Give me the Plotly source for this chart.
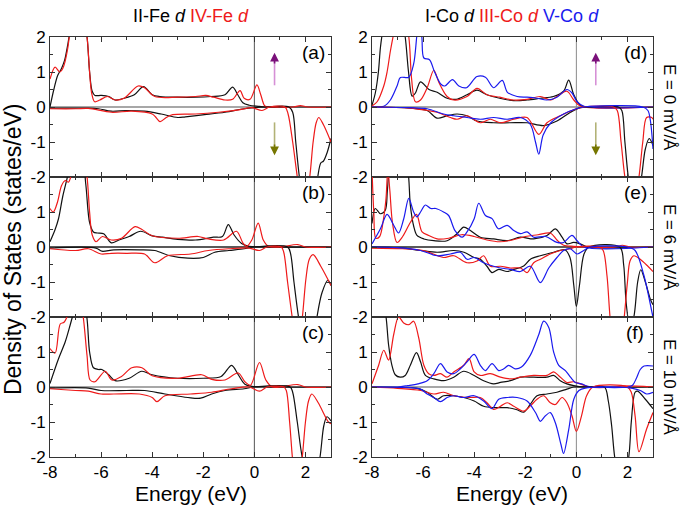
import plotly.graph_objects as go

# ---------------- data ----------------
# Panel (a)  E = 0 mV/Å, Fe
A_II_UP_E = [-8.0, -7.85, -7.7, -7.55, -7.43, -7.3, -7.2, -7.0, -6.7, -6.55, -6.45, -6.35, -6.24, -6.0, -5.7, -5.45, -5.1, -4.7, -4.34, -4.0, -3.7, -3.0, -2.3, -1.7, -1.15, -0.85, -0.65, -0.45, -0.2, 0.15, 0.5, 1.5, 3.0]
A_II_UP = [0.0, 0.5, 0.9, 1.1, 1.33, 1.8, 2.2, 2.6, 2.6, 2.0, 1.0, 0.45, 0.33, 0.33, 0.3, 0.2, 0.25, 0.35, 0.58, 0.35, 0.3, 0.28, 0.28, 0.3, 0.35, 0.57, 0.35, 0.12, 0.05, 0.02, 0.0, 0.0, 0.0]
A_IV_UP_E = [-8.0, -7.8, -7.62, -7.5, -7.41, -7.3, -7.2, -7.0, -6.7, -6.55, -6.45, -6.37, -6.25, -6.05, -5.75, -5.45, -5.1, -4.55, -4.3, -3.9, -3.0, -2.3, -1.9, -1.6, -1.15, -0.85, -0.56, -0.4, -0.17, 0.1, 0.25, 0.41, 0.6, 1.0, 1.5, 1.8, 2.1, 3.0]
A_IV_UP = [0.8, 1.14, 1.0, 1.1, 1.3, 1.7, 2.2, 2.6, 2.6, 2.0, 1.0, 0.4, 0.15, 0.2, 0.3, 0.2, 0.25, 0.6, 0.55, 0.3, 0.28, 0.3, 0.33, 0.28, 0.2, 0.22, 0.47, 0.25, 0.22, 0.63, 0.35, 0.03, 0.0, 0.0, 0.0, 0.04, 0.0, 0.0]
A_II_DN_E = [-8.0, -7.0, -6.5, -6.1, -5.6, -5.0, -4.3, -3.65, -3.0, -2.7, -1.95, -1.15, -0.4, 0.0, 0.5, 1.35, 1.5, 1.62, 1.78, 2.0, 2.3, 2.48, 2.6, 2.7, 2.85, 3.0]
A_II_DN = [-0.03, -0.03, -0.03, -0.05, -0.12, -0.1, -0.12, -0.2, -0.3, -0.28, -0.22, -0.15, -0.05, -0.02, 0.0, 0.0, -0.15, -1.0, -2.1, -3.0, -3.0, -2.0, -1.6, -1.55, -1.3, -0.9]
A_IV_DN_E = [-8.0, -7.0, -6.5, -5.6, -4.8, -4.0, -3.85, -3.69, -3.45, -3.2, -2.3, -1.4, -0.6, -0.1, 0.3, 0.6, 1.2, 1.32, 1.5, 1.7, 1.9, 2.15, 2.3, 2.42, 2.52, 2.7, 3.0]
A_IV_DN = [-0.05, -0.05, -0.04, -0.15, -0.12, -0.2, -0.3, -0.42, -0.3, -0.22, -0.2, -0.15, -0.08, -0.02, -0.1, 0.0, 0.0, -0.2, -1.0, -2.1, -3.0, -2.1, -1.0, -0.45, -0.3, -0.5, -1.0]

# Panel (b)  E = 6 mV/Å, Fe
B_II_UP_E = [-8.0, -7.8, -7.67, -7.5, -7.35, -7.25, -7.0, -6.76, -6.6, -6.45, -6.3, -6.15, -5.9, -5.6, -5.3, -4.9, -4.45, -4.0, -3.6, -3.0, -2.3, -1.6, -1.25, -1.02, -0.8, -0.5, -0.2, 0.3, 3.0]
B_II_UP = [0.15, 0.5, 0.8, 1.45, 1.9, 2.2, 2.6, 2.6, 1.8, 0.7, 0.43, 0.4, 0.38, 0.12, 0.2, 0.3, 0.45, 0.32, 0.28, 0.22, 0.2, 0.28, 0.3, 0.64, 0.35, 0.1, 0.02, 0.0, 0.0]
B_IV_UP_E = [-8.0, -7.87, -7.7, -7.55, -7.4, -7.28, -7.15, -6.95, -6.7, -6.55, -6.45, -6.35, -6.2, -5.95, -5.6, -5.2, -4.67, -4.4, -4.0, -3.0, -2.2, -1.8, -1.2, -0.7, -0.45, -0.3, -0.1, 0.15, 0.35, 0.55, 1.0, 1.7, 2.0, 3.0]
B_IV_UP = [1.1, 1.0, 1.3, 1.75, 1.9, 1.85, 2.1, 2.6, 2.6, 2.0, 1.0, 0.35, 0.15, 0.3, 0.2, 0.25, 0.58, 0.5, 0.32, 0.25, 0.3, 0.23, 0.2, 0.45, 0.12, 0.02, 0.2, 0.68, 0.2, 0.02, 0.0, 0.07, 0.0, 0.0]
B_II_DN_E = [-8.0, -6.2, -5.97, -5.5, -4.5, -3.9, -3.3, -2.6, -2.0, -1.55, -1.0, -0.4, 0.0, 1.3, 1.42, 1.55, 1.75, 2.0, 2.25, 2.45, 2.65, 2.88, 3.0]
B_II_DN = [-0.03, -0.03, -0.12, -0.08, -0.08, -0.1, -0.25, -0.32, -0.3, -0.15, -0.1, -0.05, 0.0, 0.0, -0.2, -1.0, -2.1, -3.0, -3.0, -2.0, -1.3, -0.95, -1.1]
B_IV_DN_E = [-8.0, -7.0, -6.5, -6.0, -5.6, -5.0, -4.3, -3.9, -3.4, -2.5, -1.8, -1.0, -0.2, 0.2, 0.5, 1.05, 1.15, 1.3, 1.5, 1.7, 1.88, 2.02, 2.15, 2.3, 2.6, 3.0]
B_IV_DN = [-0.05, -0.1, -0.05, -0.2, -0.18, -0.18, -0.2, -0.45, -0.25, -0.2, -0.1, -0.05, -0.03, -0.1, 0.0, 0.0, -0.15, -1.0, -2.1, -3.0, -2.0, -0.9, -0.35, -0.22, -0.55, -1.1]

# Panel (c)  E = 10 mV/Å, Fe
C_II_UP_E = [-8.0, -7.67, -7.4, -7.2, -7.05, -6.9, -6.75, -6.56, -6.45, -6.3, -6.1, -5.97, -5.7, -5.45, -4.9, -4.41, -4.0, -3.0, -2.0, -1.3, -0.89, -0.63, -0.37, -0.1, 0.3, 3.0]
C_II_UP = [0.1, 0.8, 1.3, 1.8, 2.2, 2.6, 2.6, 2.0, 1.0, 0.55, 0.5, 0.5, 0.35, 0.18, 0.25, 0.45, 0.35, 0.25, 0.25, 0.3, 0.62, 0.35, 0.08, 0.02, 0.0, 0.0]
C_IV_UP_E = [-8.0, -7.8, -7.6, -7.45, -7.28, -7.1, -6.85, -6.7, -6.55, -6.43, -6.24, -5.84, -5.58, -5.2, -4.8, -4.4, -4.0, -3.0, -2.06, -1.67, -1.15, -0.63, -0.37, -0.15, 0.2, 0.45, 0.7, 1.7, 2.0, 3.0]
C_IV_UP = [1.1, 0.97, 1.8, 1.85, 2.1, 2.6, 2.6, 2.0, 0.9, 0.2, 0.15, 0.45, 0.2, 0.3, 0.55, 0.55, 0.32, 0.25, 0.35, 0.22, 0.2, 0.4, 0.15, 0.05, 0.7, 0.2, 0.0, 0.07, 0.0, 0.0]
C_II_DN_E = [-8.0, -6.5, -6.0, -5.0, -4.3, -3.5, -2.6, -2.1, -1.67, -1.15, -0.4, 0.0, 1.4, 1.5, 1.68, 1.9, 2.3, 2.57, 2.72, 2.84, 3.0]
C_II_DN = [-0.03, -0.03, -0.1, -0.1, -0.1, -0.2, -0.3, -0.32, -0.2, -0.1, -0.05, 0.0, 0.0, -0.15, -1.0, -2.1, -3.0, -2.0, -1.1, -0.85, -0.97]
C_IV_DN_E = [-8.0, -7.0, -6.5, -6.0, -5.5, -4.5, -4.0, -3.82, -3.5, -2.5, -1.67, -0.9, -0.2, 0.2, 0.5, 1.15, 1.25, 1.38, 1.5, 1.65, 1.86, 2.0, 2.12, 2.25, 2.5, 2.9, 3.0]
C_IV_DN = [-0.05, -0.1, -0.12, -0.2, -0.2, -0.2, -0.3, -0.42, -0.25, -0.2, -0.15, -0.05, 0.0, -0.12, 0.0, 0.0, -0.1, -1.0, -2.1, -3.0, -2.1, -1.0, -0.4, -0.2, -0.45, -1.0, -1.05]

# Panel (d)  E = 0 mV/Å, Co
D_I_UP_E = [-8.0, -7.87, -7.75, -7.67, -7.57, -7.4, -6.85, -6.7, -6.57, -6.43, -6.3, -6.1, -5.77, -5.45, -5.06, -4.7, -4.28, -3.89, -3.5, -3.0, -2.45, -1.93, -1.41, -0.9, -0.5, -0.3, -0.1, 0.15, 0.4, 3.0]
D_I_UP = [0.05, 0.4, 1.0, 1.7, 2.2, 2.6, 2.6, 2.0, 1.0, 0.31, 0.4, 0.72, 0.5, 0.42, 0.25, 0.22, 0.35, 0.48, 0.35, 0.25, 0.18, 0.2, 0.25, 0.3, 0.45, 0.77, 0.35, 0.05, 0.0, 0.0]
D_III_UP_E = [-8.0, -7.8, -7.54, -7.41, -7.28, -7.15, -7.0, -6.75, -6.56, -6.45, -6.3, -6.1, -5.84, -5.58, -5.38, -5.06, -4.8, -4.28, -3.89, -3.5, -3.0, -2.45, -1.93, -1.41, -1.0, -0.76, -0.37, -0.1, 0.15, 3.0]
D_III_UP = [0.03, 0.15, 0.6, 1.0, 1.6, 2.1, 2.6, 2.6, 2.0, 0.8, 0.15, 0.2, 0.55, 1.05, 0.7, 0.3, 0.2, 0.3, 0.53, 0.35, 0.28, 0.2, 0.22, 0.3, 0.2, 0.3, 0.45, 0.2, 0.03, 0.0]
D_V_UP_E = [-8.0, -7.54, -7.28, -7.02, -6.89, -6.56, -6.37, -6.25, -6.17, -6.05, -5.97, -5.75, -5.55, -5.3, -5.15, -4.85, -4.6, -4.3, -3.89, -3.56, -3.24, -2.9, -2.7, -2.32, -1.93, -1.54, -1.15, -0.76, -0.37, -0.17, 0.03, 0.3, 3.0]
D_V_UP = [0.0, 0.02, 0.2, 0.6, 0.84, 0.85, 1.23, 2.0, 2.5, 2.0, 1.4, 1.35, 1.0, 0.65, 0.6, 0.78, 0.6, 0.55, 0.87, 0.85, 0.55, 0.76, 0.42, 0.3, 0.28, 0.25, 0.2, 0.28, 0.5, 0.4, 0.15, 0.02, 0.0]
D_I_DN_E = [-8.0, -6.5, -5.84, -5.45, -5.06, -4.67, -4.28, -3.89, -3.24, -2.6, -1.93, -1.28, -0.76, -0.23, 0.15, 0.5, 1.65, 1.78, 1.9, 2.05, 2.3, 2.55, 2.7, 2.85, 3.0]
D_I_DN = [0.0, -0.03, -0.1, -0.32, -0.25, -0.2, -0.25, -0.4, -0.45, -0.45, -0.45, -0.53, -0.4, -0.15, -0.02, 0.0, 0.0, -0.1, -1.0, -2.1, -3.0, -2.0, -1.2, -0.9, -1.1]
D_III_DN_E = [-8.0, -6.5, -5.84, -5.45, -4.93, -4.67, -4.28, -3.76, -3.37, -2.97, -2.45, -1.93, -1.47, -1.15, -0.63, -0.1, 0.3, 1.45, 1.6, 1.75, 1.92, 2.2, 2.45, 2.6, 2.75, 2.95, 3.0]
D_III_DN = [0.0, -0.03, -0.1, -0.15, -0.3, -0.35, -0.25, -0.45, -0.35, -0.45, -0.35, -0.3, -0.78, -0.45, -0.25, -0.08, 0.0, 0.0, -0.1, -1.0, -2.1, -3.0, -2.0, -1.0, -0.3, -0.3, -0.35]
D_V_DN_E = [-8.0, -6.5, -5.84, -5.2, -4.8, -4.28, -3.76, -3.24, -2.71, -2.19, -1.8, -1.6, -1.47, -1.3, -1.0, -0.5, 0.0, 0.3, 2.6, 2.8, 2.9, 3.0]
D_V_DN = [0.0, -0.02, -0.05, -0.2, -0.25, -0.3, -0.35, -0.3, -0.35, -0.3, -0.5, -1.0, -1.35, -0.8, -0.45, -0.2, -0.05, 0.0, 0.0, -0.1, -0.4, -1.2]

# Panel (e)  E = 6 mV/Å, Co
E_I_UP_E = [-8.0, -7.87, -7.67, -7.48, -7.4, -7.33, -7.2, -6.8, -6.6, -6.5, -6.37, -6.24, -5.97, -5.58, -5.06, -4.67, -4.41, -4.15, -3.76, -3.24, -2.71, -2.19, -1.67, -1.15, -0.82, -0.56, -0.37, -0.11, 0.15, 0.45, 3.0]
E_I_UP = [0.67, 1.1, 0.95, 1.05, 1.6, 2.2, 2.6, 2.6, 2.2, 1.2, 0.6, 0.33, 0.23, 0.18, 0.18, 0.38, 0.57, 0.47, 0.28, 0.23, 0.18, 0.28, 0.23, 0.33, 0.52, 0.28, 0.09, 0.13, 0.09, 0.0, 0.0]
E_III_UP_E = [-8.0, -7.93, -7.85, -7.7, -7.55, -7.45, -7.38, -7.3, -7.2, -7.02, -6.8, -6.5, -6.26, -6.04, -5.78, -5.45, -5.0, -4.5, -4.0, -3.5, -3.0, -2.5, -2.0, -1.5, -1.02, -0.76, -0.5, -0.1, 0.5, 1.5, 1.8, 2.1, 3.0]
E_III_UP = [2.2, 1.0, 0.25, 0.3, 0.8, 1.4, 2.2, 1.6, 0.7, 0.13, 0.3, 0.7, 0.93, 0.43, 0.33, 0.23, 0.25, 0.35, 0.3, 0.2, 0.15, 0.2, 0.3, 0.35, 0.4, 0.2, 0.05, 0.02, 0.0, 0.0, 0.05, 0.0, 0.0]
E_V_UP_E = [-8.0, -7.67, -7.41, -7.15, -6.96, -6.76, -6.56, -6.37, -6.24, -6.1, -5.91, -5.7, -5.5, -5.2, -5.0, -4.75, -4.47, -4.28, -4.0, -3.82, -3.56, -3.3, -3.05, -2.71, -2.45, -2.19, -1.93, -1.67, -1.2, -0.76, -0.5, -0.17, 0.03, 0.3, 3.0]
E_V_UP = [0.09, 0.52, 0.93, 0.62, 0.4, 0.8, 1.39, 1.0, 0.86, 1.0, 1.2, 1.1, 1.1, 1.0, 0.9, 0.47, 0.28, 0.43, 0.81, 1.25, 0.9, 0.81, 0.52, 0.62, 0.47, 0.38, 0.43, 0.28, 0.3, 0.13, 0.13, 0.33, 0.18, 0.0, 0.0]
E_I_DN_E = [-8.0, -7.0, -6.1, -5.45, -4.8, -4.4, -4.0, -3.76, -3.5, -3.3, -3.04, -2.71, -2.45, -2.06, -1.8, -1.41, -0.89, -0.45, -0.25, -0.1, 0.0, 0.12, 0.3, 0.5, 1.7, 1.85, 1.95, 2.1, 2.25, 2.4, 2.52, 2.7, 2.9, 3.0]
E_I_DN = [0.0, -0.02, -0.1, -0.15, -0.1, -0.15, -0.3, -0.35, -0.55, -0.73, -0.64, -0.7, -0.64, -0.54, -0.35, -0.25, -0.15, -0.08, -0.3, -1.1, -1.7, -1.1, -0.2, 0.0, 0.0, -0.5, -1.6, -2.3, -2.0, -1.0, -0.65, -1.0, -1.5, -1.65]
E_III_DN_E = [-8.0, -6.8, -6.0, -5.6, -5.2, -4.8, -4.28, -3.89, -3.63, -3.37, -2.97, -2.58, -2.19, -1.93, -1.67, -1.41, -1.02, -0.63, -0.24, 0.0, 0.9, 1.05, 1.2, 1.33, 1.5, 1.7, 1.86, 2.0, 2.1, 2.25, 2.5, 2.8, 3.0]
E_III_DN = [-0.03, -0.05, -0.1, -0.2, -0.3, -0.25, -0.45, -0.4, -0.25, -0.55, -0.55, -0.6, -0.6, -0.73, -0.45, -0.35, -0.2, -0.1, -0.05, 0.0, 0.0, -0.1, -0.83, -2.1, -3.0, -3.0, -2.1, -1.0, -0.4, -0.25, -0.35, -0.55, -0.7]
E_V_DN_E = [-8.0, -7.0, -6.1, -5.45, -4.93, -4.54, -4.28, -4.0, -3.63, -3.24, -2.97, -2.58, -2.19, -1.8, -1.41, -1.08, -0.76, -0.5, -0.24, 0.03, 0.29, 0.55, 2.0, 2.3, 2.64, 2.97, 3.0]
E_V_DN = [0.0, -0.02, -0.1, -0.25, -0.2, -0.15, -0.35, -0.3, -0.45, -0.55, -0.6, -0.64, -0.7, -0.55, -1.02, -0.6, -0.3, -0.1, -0.05, -0.2, -0.1, 0.0, 0.0, -0.1, -0.8, -1.9, -2.0]

# Panel (f)  E = 10 mV/Å, Co
F_I_UP_E = [-8.0, -7.6, -7.45, -7.35, -7.22, -7.09, -6.9, -6.7, -6.5, -6.26, -6.1, -5.91, -5.58, -5.2, -4.8, -4.41, -4.0, -3.63, -3.24, -2.97, -2.58, -2.19, -1.67, -1.15, -0.89, -0.63, -0.37, -0.1, 0.3, 3.0]
F_I_UP = [2.6, 2.6, 2.0, 1.2, 0.62, 0.35, 0.28, 0.33, 0.62, 0.98, 0.72, 0.33, 0.23, 0.18, 0.28, 0.45, 0.33, 0.18, 0.09, 0.13, 0.18, 0.28, 0.28, 0.28, 0.33, 0.18, 0.09, 0.04, 0.0, 0.0]
F_III_UP_E = [-8.0, -7.74, -7.54, -7.35, -7.15, -6.96, -6.76, -6.56, -6.37, -6.17, -5.97, -5.78, -5.58, -5.32, -5.06, -4.8, -4.41, -4.2, -4.0, -3.76, -3.37, -2.97, -2.58, -2.19, -1.67, -1.15, -0.89, -0.7, -0.37, -0.11, 0.15, 0.5, 1.5, 1.8, 3.0]
F_III_UP = [0.09, 0.62, 1.05, 0.77, 1.5, 2.0, 1.83, 1.78, 1.88, 1.4, 0.62, 0.38, 0.33, 0.38, 0.28, 0.43, 0.62, 0.81, 0.43, 0.33, 0.38, 0.28, 0.23, 0.28, 0.33, 0.33, 0.43, 0.33, 0.13, 0.15, 0.09, 0.0, 0.0, 0.03, 0.0]
F_V_UP_E = [-8.0, -7.0, -6.6, -6.2, -5.84, -5.58, -5.32, -5.06, -4.8, -4.54, -4.28, -4.0, -3.76, -3.56, -3.3, -3.04, -2.84, -2.65, -2.4, -2.15, -1.8, -1.47, -1.28, -1.08, -0.89, -0.69, -0.43, -0.23, -0.04, 0.2, 0.45, 2.0, 2.2, 2.35, 2.5, 2.65, 3.0]
F_V_UP = [0.0, 0.0, 0.04, 0.09, 0.18, 0.38, 0.67, 0.43, 0.38, 0.52, 0.72, 0.93, 0.62, 0.47, 0.67, 0.47, 0.52, 0.62, 0.52, 0.57, 0.91, 1.5, 1.88, 1.7, 1.0, 0.62, 0.47, 0.28, 0.13, 0.09, 0.02, 0.0, 0.05, 0.25, 0.5, 0.6, 0.6]
F_I_DN_E = [-8.0, -6.5, -6.24, -5.84, -5.45, -5.2, -4.8, -4.41, -4.0, -3.63, -3.24, -2.71, -2.32, -2.06, -1.8, -1.54, -1.15, -0.76, -0.37, -0.1, 0.5, 1.1, 1.25, 1.38, 1.5, 1.75, 2.05, 2.15, 2.3, 2.4, 2.7, 3.0]
F_I_DN = [0.0, -0.02, -0.04, -0.15, -0.35, -0.25, -0.25, -0.3, -0.4, -0.55, -0.59, -0.59, -0.65, -0.72, -0.49, -0.25, -0.2, -0.15, -0.06, 0.0, 0.0, 0.0, -0.4, -1.1, -2.0, -3.0, -2.0, -1.0, -0.15, -0.12, -0.35, -0.62]
F_III_DN_E = [-8.0, -7.0, -6.1, -5.58, -5.2, -4.8, -4.2, -3.76, -3.5, -3.24, -2.97, -2.71, -2.45, -2.06, -1.8, -1.54, -1.28, -1.02, -0.82, -0.56, -0.37, -0.17, 0.0, 0.2, 0.4, 0.65, 2.0, 2.15, 2.3, 2.45, 2.75, 3.0]
F_III_DN = [0.0, -0.04, -0.1, -0.2, -0.15, -0.25, -0.3, -0.3, -0.45, -0.64, -0.55, -0.45, -0.55, -0.69, -0.54, -0.35, -0.25, -0.45, -0.5, -0.3, -0.45, -0.83, -1.27, -0.83, -0.25, 0.0, 0.0, -0.15, -0.83, -1.85, -1.2, -0.73]
F_V_DN_E = [-8.0, -6.5, -6.1, -5.84, -5.58, -5.32, -5.06, -4.8, -4.41, -4.0, -3.63, -3.3, -3.04, -2.71, -2.32, -1.93, -1.6, -1.41, -1.22, -1.02, -0.82, -0.6, -0.5, -0.3, -0.1, 0.1, 0.35, 1.7, 2.2, 2.5, 2.75, 3.0]
F_V_DN = [0.0, -0.02, -0.06, -0.2, -0.3, -0.42, -0.3, -0.25, -0.3, -0.25, -0.4, -0.62, -0.35, -0.3, -0.3, -0.4, -0.73, -0.98, -0.83, -0.73, -1.03, -1.65, -1.9, -1.22, -0.35, -0.1, -0.03, 0.0, -0.04, -0.1, -0.2, -0.15]

X_TICKS = [-8, -6, -4, -2, 0, 2]
X_MINOR = [-7, -5, -3, -1, 1, 3]
Y_TICKS = [-2, -1, 0, 1, 2]
Y_MINOR = [-1.5, -0.5, 0.5, 1.5]
PANEL_LABELS = ["(a)", "(d)", "(b)", "(e)", "(c)", "(f)"]
FIELD_LABELS = ["E = 0 mV/Å", "E = 6 mV/Å", "E = 10 mV/Å"]

# ---------------- styling / geometry ----------------
BLACK = "#111111"
RED = "#ee1a1a"
BLUE = "#1a1aee"
FONT = "Liberation Sans, Arial, sans-serif"

W, H = 685, 509


def fx(p):
    return p / W


def fy(p):
    return 1 - p / H


XDOM = [[fx(50), fx(331)], [fx(372), fx(653)]]
YDOM = [[fy(177), fy(37)], [fy(317), fy(177)], [fy(457), fy(317)]]

PANELS = [
    (0, 0, [(A_II_UP_E, A_II_UP, BLACK), (A_IV_UP_E, A_IV_UP, RED), (A_II_DN_E, A_II_DN, BLACK), (A_IV_DN_E, A_IV_DN, RED)]),
    (0, 1, [(D_I_UP_E, D_I_UP, BLACK), (D_III_UP_E, D_III_UP, RED), (D_V_UP_E, D_V_UP, BLUE),
            (D_I_DN_E, D_I_DN, BLACK), (D_III_DN_E, D_III_DN, RED), (D_V_DN_E, D_V_DN, BLUE)]),
    (1, 0, [(B_II_UP_E, B_II_UP, BLACK), (B_IV_UP_E, B_IV_UP, RED), (B_II_DN_E, B_II_DN, BLACK), (B_IV_DN_E, B_IV_DN, RED)]),
    (1, 1, [(E_I_UP_E, E_I_UP, BLACK), (E_III_UP_E, E_III_UP, RED), (E_V_UP_E, E_V_UP, BLUE),
            (E_I_DN_E, E_I_DN, BLACK), (E_III_DN_E, E_III_DN, RED), (E_V_DN_E, E_V_DN, BLUE)]),
    (2, 0, [(C_II_UP_E, C_II_UP, BLACK), (C_IV_UP_E, C_IV_UP, RED), (C_II_DN_E, C_II_DN, BLACK), (C_IV_DN_E, C_IV_DN, RED)]),
    (2, 1, [(F_I_UP_E, F_I_UP, BLACK), (F_III_UP_E, F_III_UP, RED), (F_V_UP_E, F_V_UP, BLUE),
            (F_I_DN_E, F_I_DN, BLACK), (F_III_DN_E, F_III_DN, RED), (F_V_DN_E, F_V_DN, BLUE)]),
]

fig = go.Figure()
layout = dict(
    width=W, height=H, autosize=False,
    margin=dict(l=0, r=0, t=0, b=0, pad=0),
    paper_bgcolor="white", plot_bgcolor="white",
    font=dict(family=FONT, color="black"),
    showlegend=False,
)
shapes = []
annotations = []

for i, (row, col, curves) in enumerate(PANELS):
    n = i + 1
    xa = "x" if n == 1 else f"x{n}"
    ya = "y" if n == 1 else f"y{n}"
    xkey = "xaxis" if n == 1 else f"xaxis{n}"
    ykey = "yaxis" if n == 1 else f"yaxis{n}"
    for ex, vy, color in curves:
        fig.add_trace(go.Scatter(x=ex, y=vy, mode="lines", xaxis=xa, yaxis=ya,
                                 line=dict(color=color, width=1.2, shape="spline", smoothing=0.9),
                                 hoverinfo="skip", showlegend=False))
    bottom = row == 2
    layout[xkey] = dict(
        domain=XDOM[col], anchor=ya, range=[-8, 3], showgrid=False, zeroline=False, automargin=False,
        showline=True, linecolor="#333333", linewidth=1, mirror="allticks",
        ticks="inside", ticklen=5, tickwidth=1, tickcolor="#333333",
        tickmode="array", tickvals=X_TICKS, ticktext=[str(v) for v in X_TICKS],
        showticklabels=bottom, tickfont=dict(size=17, family=FONT),
        minor=dict(tickmode="array", tickvals=X_MINOR, ticks="inside", ticklen=3, tickcolor="#333333"),
    )
    ytext = [str(v) for v in Y_TICKS]
    if row > 0:
        ytext[-1] = ""
    layout[ykey] = dict(
        domain=YDOM[row], anchor=xa, range=[-2, 2], showgrid=False, zeroline=False, automargin=False,
        showline=True, linecolor="#333333", linewidth=1, mirror="allticks",
        ticks="inside", ticklen=5, tickwidth=1, tickcolor="#333333",
        tickmode="array", tickvals=Y_TICKS, ticktext=ytext,
        tickfont=dict(size=17, family=FONT),
        minor=dict(tickmode="array", tickvals=Y_MINOR, ticks="inside", ticklen=3, tickcolor="#333333"),
    )
    zc = "#222222" if row == 1 else "#8a8a8a"
    shapes.append(dict(type="line", xref=xa, yref=ya, x0=-8, x1=3, y0=0, y1=0,
                       line=dict(color=zc, width=1.3), layer="below"))
    shapes.append(dict(type="line", xref=xa, yref=ya, x0=0, x1=0, y0=-2, y1=2,
                       line=dict(color="#555555" if col == 0 else "#8a8a8a", width=1), layer="below"))
    annotations.append(dict(text=PANEL_LABELS[i], xref=f"{xa} domain", yref=f"{ya} domain",
                            x=0.936, y=0.89, showarrow=False, font=dict(size=19, family=FONT),
                            xanchor="center", yanchor="middle"))
    if row == 0:
        ax_x = 0.79 if col == 0 else 0.76
        shapes.append(dict(type="line", xref=xa, yref=ya, x0=ax_x, x1=ax_x, y0=0.62, y1=1.3,
                           line=dict(color="#d690d6", width=1.6)))
        annotations.append(dict(x=ax_x, y=1.55, ax=ax_x, ay=1.2, xref=xa, yref=ya, axref=xa, ayref=ya,
                                text="", showarrow=True, arrowhead=2, arrowsize=1.1, arrowwidth=1.6,
                                arrowcolor="#7a107a"))
        shapes.append(dict(type="line", xref=xa, yref=ya, x0=ax_x, x1=ax_x, y0=-0.44, y1=-1.12,
                           line=dict(color="#b2b276", width=1.6)))
        annotations.append(dict(x=ax_x, y=-1.38, ax=ax_x, ay=-1.03, xref=xa, yref=ya, axref=xa, ayref=ya,
                                text="", showarrow=True, arrowhead=2, arrowsize=1.1, arrowwidth=1.6,
                                arrowcolor="#767600"))
    if col == 1:
        yc = (YDOM[row][0] + YDOM[row][1]) / 2
        annotations.append(dict(text=FIELD_LABELS[row], xref="paper", yref="paper", x=fx(670), y=yc,
                                textangle=90, showarrow=False, font=dict(size=17, family=FONT),
                                xanchor="center", yanchor="middle"))

annotations.append(dict(
    text="II-Fe <i>d</i> <span style='color:%s'>IV-Fe <i>d</i></span>" % RED,
    xref="paper", yref="paper", x=fx(191), y=fy(16), showarrow=False,
    font=dict(size=18, family=FONT), xanchor="center", yanchor="middle"))
annotations.append(dict(
    text="I-Co <i>d</i> <span style='color:%s'>III-Co <i>d</i></span> <span style='color:%s'>V-Co <i>d</i></span>" % (RED, BLUE),
    xref="paper", yref="paper", x=fx(512), y=fy(16), showarrow=False,
    font=dict(size=18, family=FONT), xanchor="center", yanchor="middle"))
for cx in (191, 512):
    annotations.append(dict(text="Energy (eV)", xref="paper", yref="paper", x=fx(cx), y=fy(493),
                            showarrow=False, font=dict(size=21, family=FONT),
                            xanchor="center", yanchor="middle"))
annotations.append(dict(text="Density of States (states/eV)", xref="paper", yref="paper",
                        x=fx(13), y=fy(250), textangle=-90, showarrow=False,
                        font=dict(size=23, family=FONT), xanchor="center", yanchor="middle"))

layout["shapes"] = shapes
layout["annotations"] = annotations
fig.update_layout(**layout)
# the page's default 8 px body margin would push the figure off the window
fig.write_html("out.html", config={"displayModeBar": False},
               post_script="document.body.style.margin='0';")
